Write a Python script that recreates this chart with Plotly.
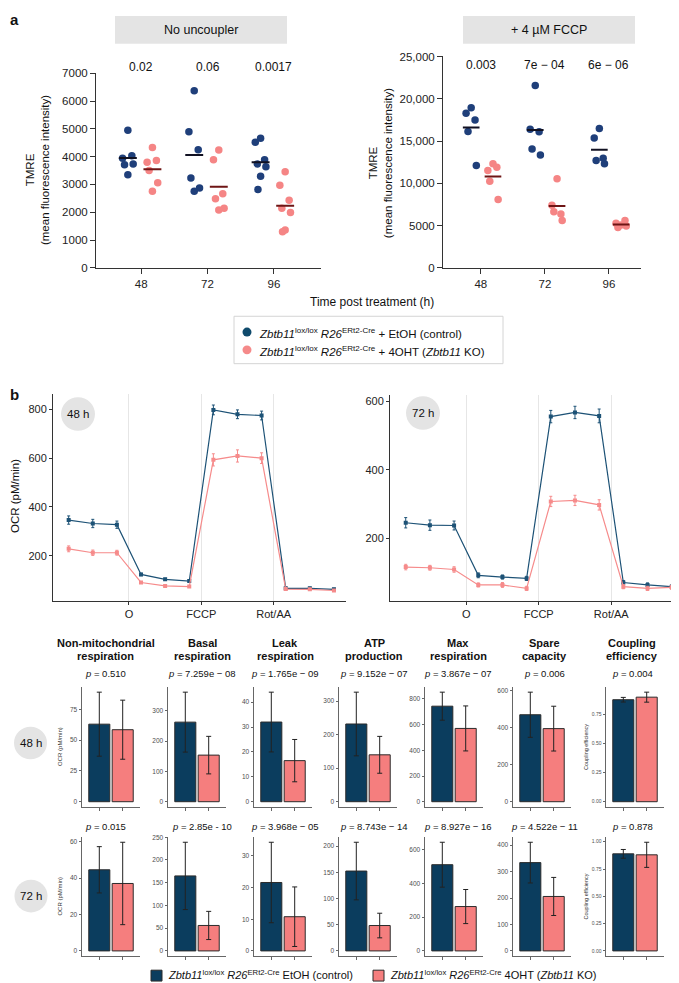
import numpy as np
import plotly.graph_objects as go

W, H = 679, 983
FONT = "Liberation Sans, Arial, Helvetica, sans-serif"

# ---------------- data: panel a (TMRE) ----------------
time_labels = ["48", "72", "96"]
tmre_ctrl_nounc = [[4950, 3940, 4030, 3710, 3740, 3350],
                   [6370, 4900, 4250, 3230, 2870, 2760],
                   [4660, 4520, 3890, 3740, 3640, 3300, 2820]]
tmre_ko_nounc = [[4330, 3800, 3860, 3500, 3060, 2760],
                 [4240, 3890, 2670, 2490, 2140, 2080],
                 [3460, 2970, 2430, 2140, 1990, 1360, 1300]]
tmre_ctrl_fccp = [[18950, 18280, 17500, 16130, 12110],
                  [21560, 16400, 16090, 14060, 13360],
                  [16480, 15350, 12970, 12700, 12300]]
tmre_ko_fccp = [[12300, 11520, 11910, 10230, 8090],
                [10550, 7420, 6370, 6640, 5590],
                [5080, 5270, 5590, 4770, 4960]]
p_nounc = ["0.02", "0.06", "0.0017"]
p_fccp = ["0.003", "7e − 04", "6e − 06"]
fccp_ticks = [0, 5000, 10000, 15000, 20000, 25000]
fccp_ticktext = ["0", "5000", "10,000", "15,000", "20,000", "25,000"]

# ---------------- data: panel b (Seahorse OCR) ----------------
injections = ["O", "FCCP", "Rot/AA"]
ocr48_ctrl = [346, 332, 327, 123, 103, 96, 798, 780, 775, 66, 66, 62]
ocr48_ctrl_err = [17, 17, 15, 5, 4, 4, 20, 18, 18, 4, 4, 4]
ocr48_ko = [228, 212, 212, 90, 76, 73, 593, 609, 600, 63, 62, 57]
ocr48_ko_err = [12, 11, 10, 4, 3, 3, 25, 25, 22, 3, 3, 3]
ocr72_ctrl = [246, 239, 238, 93, 88, 84, 555, 567, 557, 72, 65, 60]
ocr72_ctrl_err = [15, 15, 13, 7, 6, 6, 18, 18, 20, 6, 6, 5]
ocr72_ko = [117, 115, 110, 65, 65, 55, 308, 311, 298, 60, 55, 58]
ocr72_ko_err = [8, 7, 8, 6, 7, 6, 15, 15, 15, 6, 6, 6]

# ---------------- data: panel b (bar summaries) ----------------
bar_metrics = ["Non-mitochondrial\nrespiration", "Basal\nrespiration", "Leak\nrespiration",
               "ATP\nproduction", "Max\nrespiration", "Spare\ncapacity", "Coupling\nefficiency"]
bar48_ctrl = [63, 263, 32, 232, 743, 470, 0.878]
bar48_ctrl_sd = [26, 99, 12, 95, 109, 122, 0.02]
bar48_ko = [58.5, 154, 16.5, 140, 570, 395, 0.90]
bar48_ko_sd = [24, 62, 8.5, 55, 175, 121, 0.043]
p48 = ["0.510", "7.259e − 08", "1.765e − 09", "9.152e − 07", "3.867e − 07", "0.006", "0.004"]
bar72_ctrl = [44.5, 165, 21.6, 152.5, 511, 334, 0.889]
bar72_ctrl_sd = [12.7, 74, 12.7, 55, 133, 77, 0.04]
bar72_ko = [37, 56, 10.8, 48.5, 263, 206, 0.88]
bar72_ko_sd = [22.6, 31, 9.4, 23.5, 101, 72, 0.115]
p72 = ["0.015", "2.85e - 10", "3.968e − 05", "8.743e − 14", "8.927e − 16", "4.522e − 11", "0.878"]
bar48_dtick = [25, 100, 10, 100, 200, 200, 0.25]
bar72_dtick = [20, 50, 10, 50, 200, 100, 0.25]

# ---------------- styles ----------------
DOT_BLUE = "#1f3f7a"
DOT_PINK = "#f58585"
LINE_BLUE = "#1d5276"
LINE_PINK = "#f68b8b"
BAR_BLUE = "#0b3d5e"
BAR_PINK = "#f57e7e"
LEG_BLUE = "#0f4a6c"
LEG_PINK = "#f58a8a"
STRIP = "#e4e4e4"
JIT = [0.0, -0.08, 0.06, -0.05, 0.08, 0.0, -0.04]


def fx(p):
    return p / W


def fy(p):
    return 1 - p / H


def refs(n):
    return ("x" if n == 1 else f"x{n}", "y" if n == 1 else f"y{n}")


def keys(n):
    return ("xaxis" if n == 1 else f"xaxis{n}", "yaxis" if n == 1 else f"yaxis{n}")


def sup(s, size, shift):
    return f'<span style="font-size:{size}px;baseline-shift:{shift}px">{s}</span>'


fig = go.Figure()
layout = dict(width=W, height=H, margin=dict(l=0, r=0, t=0, b=0),
              paper_bgcolor="white", plot_bgcolor="white", showlegend=False,
              font=dict(family=FONT, color="#111"))
shapes = []
ann = []


def text(x, y, s, size, **kw):
    font = dict(size=size, family=kw.pop("family", FONT), color=kw.pop("color", "#111"))
    if kw.pop("bold", False):
        font["weight"] = "bold"
    d = dict(x=fx(x), y=fy(y), xref="paper", yref="paper", text=s, showarrow=False,
             font=font, xanchor=kw.pop("xanchor", "center"), yanchor=kw.pop("yanchor", "middle"))
    d.update(kw)
    ann.append(d)


def set_axes(n, xdom, ydom, xr, yr, xkw=None, ykw=None, tick=11, lc="#333"):
    xk, yk = keys(n)
    xref, yref = refs(n)
    base = dict(showline=True, linecolor=lc, linewidth=1, ticks="outside", ticklen=4,
                tickcolor=lc, showgrid=False, zeroline=False, fixedrange=True,
                tickfont=dict(size=tick, color="#222", family=FONT))
    xa = dict(base, domain=[fx(xdom[0]), fx(xdom[1])], range=xr, anchor=yref)
    ya = dict(base, domain=[fy(ydom[1]), fy(ydom[0])], range=yr, anchor=xref)
    if xkw:
        xa.update(xkw)
    if ykw:
        ya.update(ykw)
    layout[xk] = xa
    layout[yk] = ya


# ================= panel a =================
def add_dots(groups, n, offset, color, mcolor, halfw):
    xr, yr = refs(n)
    for i, vals in enumerate(groups):
        xc = i + 1 + offset
        xs = [xc + JIT[j % len(JIT)] for j in range(len(vals))]
        fig.add_trace(go.Scatter(x=xs, y=vals, mode="markers", xaxis=xr, yaxis=yr,
                                 marker=dict(size=7.5, color=color), hoverinfo="y"))
        m = float(np.mean(vals))
        fig.add_trace(go.Scatter(x=[xc - halfw, xc + halfw], y=[m, m], mode="lines",
                                 xaxis=xr, yaxis=yr, line=dict(color=mcolor, width=2),
                                 hoverinfo="skip"))


cats = list(range(1, len(time_labels) + 1))
set_axes(1, (88, 313), (60, 257), [0.32, 3.71], [0, 7000],
         xkw=dict(tickvals=cats, ticktext=time_labels, ticklen=5),
         ykw=dict(dtick=1000, ticklen=5), tick=11.5)
set_axes(2, (435, 633), (43, 257), [0.41, 3.5], [0, 25000],
         xkw=dict(tickvals=cats, ticktext=time_labels, ticklen=5),
         ykw=dict(tickvals=fccp_ticks, ticktext=fccp_ticktext, ticklen=5), tick=11.5)

add_dots(tmre_ctrl_nounc, 1, -0.2, DOT_BLUE, "#111122", 0.135)
add_dots(tmre_ko_nounc, 1, 0.17, DOT_PINK, "#6e1515", 0.135)
add_dots(tmre_ctrl_fccp, 2, -0.15, DOT_BLUE, "#111122", 0.13)
add_dots(tmre_ko_fccp, 2, 0.19, DOT_PINK, "#6e1515", 0.13)

for i, p in enumerate(p_nounc):
    ann.append(dict(x=i + 1, y=fy(45), xref="x", yref="paper", text=p, showarrow=False,
                    font=dict(size=12, family=FONT, color="#111")))
for i, p in enumerate(p_fccp):
    ann.append(dict(x=i + 1, y=fy(43), xref="x2", yref="paper", text=p, showarrow=False,
                    font=dict(size=12, family=FONT, color="#111")))

shapes.append(dict(type="rect", xref="paper", yref="paper", x0=fx(107), x1=fx(279),
                   y0=fy(30), y1=fy(2), fillcolor=STRIP, line=dict(width=0), layer="below"))
shapes.append(dict(type="rect", xref="paper", yref="paper", x0=fx(455), x1=fx(627),
                   y0=fy(30), y1=fy(2), fillcolor=STRIP, line=dict(width=0), layer="below"))
text(193, 16, "No uncoupler", 12.5)
text(541, 16, "+ 4 µM FCCP", 12.5)
text(29, 158, "TMRE<br>(mean fluorescence intensity)", 11.5, textangle=-90)
text(372, 151, "TMRE<br>(mean fluorescence intensity)", 11.5, textangle=-90)
text(364, 292, "Time post treatment (h)", 12)
text(0, 6, "a", 15, xanchor="left", bold=True)

# legend (panel a)
shapes.append(dict(type="rect", xref="paper", yref="paper", x0=fx(226), x1=fx(495),
                   y0=fy(354), y1=fy(306), fillcolor="white", line=dict(color="#d4d4d4", width=1)))
geno_a = f"<i>Zbtb11</i>{sup('lox/lox', 8, 5)} <i>R26</i>{sup('ERt2-Cre', 8, 5)}"
leg_lab = [geno_a + " + EtOH (control)",
           geno_a + " + 4OHT (<i>Zbtb11</i> KO)"]
for yy, col, lab in [(322, LEG_BLUE, leg_lab[0]), (340, LEG_PINK, leg_lab[1])]:
    shapes.append(dict(type="circle", xref="paper", yref="paper", x0=fx(234.5), x1=fx(243.5),
                       y0=fy(yy + 4.5), y1=fy(yy - 4.5), fillcolor=col, line=dict(width=0)))
    text(249, yy + 1, lab, 11.5, xanchor="left")

# ================= panel b: OCR lines =================
meas = np.arange(1, len(ocr48_ctrl) + 1)
inj_pos = [3 * (k + 1) + 0.5 for k in range(len(injections))]
line_ax = dict(tickvals=inj_pos, ticktext=injections, showgrid=True, gridcolor="#e6e6e6",
               gridwidth=1, ticklen=3)
set_axes(3, (45, 338), (385, 594), [0.35, 12.5], [15, 862], xkw=line_ax,
         ykw=dict(tickvals=[200, 400, 600, 800], ticklen=3), tick=11)
set_axes(4, (382, 677), (386, 594), [0.35, 12.55], [19, 617], xkw=line_ax,
         ykw=dict(tickvals=[200, 400, 600], ticklen=3), tick=11)

for n, series in [(3, [(ocr48_ctrl, ocr48_ctrl_err, LINE_BLUE), (ocr48_ko, ocr48_ko_err, LINE_PINK)]),
                  (4, [(ocr72_ctrl, ocr72_ctrl_err, LINE_BLUE), (ocr72_ko, ocr72_ko_err, LINE_PINK)])]:
    xr, yr = refs(n)
    for vals, err, col in series:
        fig.add_trace(go.Scatter(x=meas, y=vals, mode="lines+markers", xaxis=xr, yaxis=yr,
                                 line=dict(color=col, width=1.2),
                                 marker=dict(size=4, color=col, symbol="square"),
                                 error_y=dict(type="data", array=err, color=col, thickness=1, width=1.5)))

text(7, 488, "OCR (pM/min)", 11.5, textangle=-90)
text(0, 385, "b", 15, xanchor="left", bold=True)
for cx, cy, lab in [(70, 405, "48 h"), (415, 404, "72 h")]:
    shapes.append(dict(type="circle", xref="paper", yref="paper", x0=fx(cx - 17), x1=fx(cx + 17),
                       y0=fy(cy + 17), y1=fy(cy - 17), fillcolor=STRIP, line=dict(width=0)))
    text(cx, cy, lab, 11.5)

# ================= panel b: bars =================
col_left = [74, 160, 246, 331, 417, 505, 598]
col_w = 58
title_cx = [98, 194, 277, 366, 450, 536, 624]
rows = [
    dict(ctrl=bar48_ctrl, csd=bar48_ctrl_sd, ko=bar48_ko, ksd=bar48_ko_sd, p=p48,
         dt=bar48_dtick, y0=681, y1=803, py=668, badge=(22.5, 738, "48 h")),
    dict(ctrl=bar72_ctrl, csd=bar72_ctrl_sd, ko=bar72_ko, ksd=bar72_ko_sd, p=p72,
         dt=bar72_dtick, y0=833, y1=954, py=823, badge=(23, 893, "72 h")),
]
for r, row in enumerate(rows):
    for k in range(len(bar_metrics)):
        n = 5 + r * len(bar_metrics) + k
        c, cs, ko, ks = row["ctrl"][k], row["csd"][k], row["ko"][k], row["ksd"][k]
        top = max(c + cs, ko + ks)
        fmt = ".2f" if row["dt"][k] < 1 else ""
        set_axes(n, (col_left[k], col_left[k] + col_w), (row["y0"], row["y1"]),
                 [0.26, 2.74], [-0.05 * top, 1.05 * top], lc="#666",
                 xkw=dict(tickvals=[1, 2], showticklabels=False, ticklen=3),
                 ykw=dict(dtick=row["dt"][k], tick0=0, ticklen=2.5, tickformat=fmt,
                          tickfont=dict(size=6.5 if fmt == "" else 5, color="#4d4d4d", family=FONT)),
                 tick=6.5)
        xr, yr = refs(n)
        fig.add_trace(go.Bar(x=[1, 2], y=[c, ko], width=0.9, xaxis=xr, yaxis=yr,
                             marker=dict(color=[BAR_BLUE, BAR_PINK], line=dict(color="#2b2b2b", width=1)),
                             error_y=dict(type="data", array=[cs, ks], color="#222", thickness=1, width=2.5)))
        text(title_cx[k], row["py"], f"<i>p</i> = {row['p'][k]}", 9.5)
        if r == 0:
            l1, l2 = bar_metrics[k].split("\n")
            text(title_cx[k], 637, l1, 11, bold=True)
            text(title_cx[k], 650, l2, 11, bold=True)
    ymid = (row["y0"] + row["y1"]) / 2
    text(52, ymid, "OCR (pM/min)", 6, textangle=-90, color="#333")
    text(578, ymid, "Coupling efficiency", 5.5, textangle=-90, color="#333")
    bx, by, bl = row["badge"]
    shapes.append(dict(type="circle", xref="paper", yref="paper", x0=fx(bx - 16.5), x1=fx(bx + 16.5),
                       y0=fy(by + 16.5), y1=fy(by - 16.5), fillcolor=STRIP, line=dict(width=0)))
    text(bx, by, bl, 11.5)

# bottom legend
geno_b = f"<i>Zbtb11</i>{sup('lox/lox', 7.7, 4.5)} <i>R26</i>{sup('ERt2-Cre', 7.7, 4.5)}"
bot_lab = [geno_b + " EtOH (control)",
           geno_b + " 4OHT (<i>Zbtb11</i> KO)"]
for x0, col, lab in [(143, BAR_BLUE, bot_lab[0]), (365, BAR_PINK, bot_lab[1])]:
    shapes.append(dict(type="rect", xref="paper", yref="paper", x0=fx(x0), x1=fx(x0 + 11),
                       y0=fy(979), y1=fy(968), fillcolor=col, line=dict(color="#2b2b2b", width=1)))
    text(x0 + 15, 972, lab, 11, xanchor="left")

layout["shapes"] = shapes
layout["annotations"] = ann
fig.update_layout(**layout)
fig.write_html("out.html")
